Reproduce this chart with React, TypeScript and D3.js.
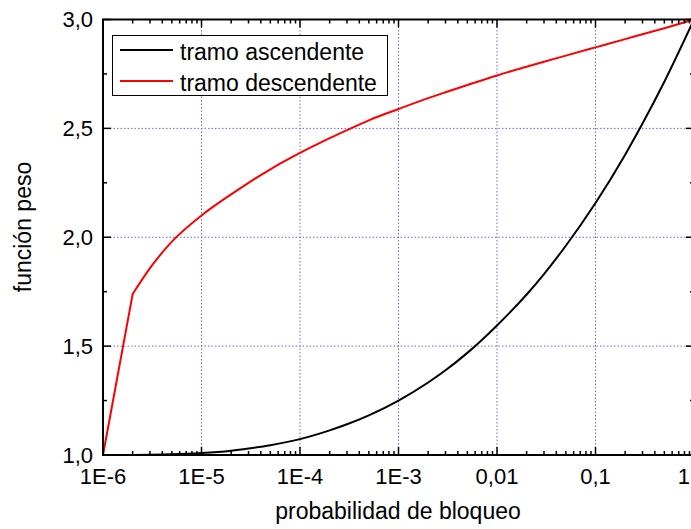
import React, { useRef, useEffect } from "react";
import * as d3 from "d3";

// probabilidad de bloqueo (x) and both branches of the weight function
const probs = [
  1e-6, 2e-6, 3e-6, 5e-6,
  1e-5, 2e-5, 3e-5, 5e-5,
  1e-4, 2e-4, 3e-4, 5e-4,
  1e-3, 2e-3, 3e-3, 5e-3,
  1e-2, 2e-2, 3e-2, 5e-2,
  0.1, 0.2, 0.3, 0.5,
  1,
];
const ascendente = [
  1.0, 1.0003, 1.001, 1.003,
  1.009, 1.02, 1.03, 1.045,
  1.073, 1.113, 1.141, 1.182,
  1.25, 1.333, 1.389, 1.469,
  1.595, 1.737, 1.831, 1.961,
  2.157, 2.379, 2.522, 2.714,
  3.0,
];
const descendente = [
  1.0, 1.739, 1.858, 1.98,
  2.1, 2.197, 2.25, 2.312,
  2.387, 2.455, 2.492, 2.537,
  2.589, 2.639, 2.666, 2.699,
  2.743, 2.783, 2.806, 2.834,
  2.872, 2.91, 2.932, 2.96,
  3.0,
];

const xTickValues = [1e-6, 1e-5, 1e-4, 1e-3, 1e-2, 0.1, 1];
const xTickLabels = ["1E-6", "1E-5", "1E-4", "1E-3", "0,01", "0,1", "1"];
const yTickValues = [1.0, 1.5, 2.0, 2.5, 3.0];
const yTickLabels = ["1,0", "1,5", "2,0", "2,5", "3,0"];
const yMinorValues = [1.25, 1.75, 2.25, 2.75];

const seriesNames = ["tramo ascendente", "tramo descendente"];
const seriesColors = ["#000000", "#ff0000"];

const FONT = "'Liberation Sans', Arial, sans-serif";

const App = () => {
  const ref = useRef<SVGSVGElement | null>(null);

  useEffect(() => {
    if (!ref.current) return;
    const svg = d3.select(ref.current);
    svg.selectAll("*").remove();

    const left = 103, right = 694, top = 19.5, bottom = 455;

    const x = d3.scaleLog().domain([1e-6, 1]).range([left, right]);
    const y = d3.scaleLinear().domain([1, 3]).range([bottom, top]);

    // grid
    const grid = svg.append("g");
    grid.selectAll(".gx")
      .data(xTickValues.slice(1, -1))
      .join("line")
      .attr("x1", d => x(d)).attr("x2", d => x(d))
      .attr("y1", top).attr("y2", bottom)
      .attr("stroke", "#6464ff").attr("stroke-width", 1)
      .attr("stroke-dasharray", "1.5,2");
    grid.selectAll(".gy")
      .data(yTickValues.slice(1, -1))
      .join("line")
      .attr("x1", left).attr("x2", right)
      .attr("y1", d => y(d)).attr("y2", d => y(d))
      .attr("stroke", "#6464ff").attr("stroke-width", 1)
      .attr("stroke-dasharray", "1.5,2");

    // curves: black is smooth, red has a straight first segment then a smooth run
    const pts = (s: number[]) => s.map((v, i) => [x(probs[i]), y(v)] as [number, number]);
    const smooth = d3.line().curve(d3.curveMonotoneX);
    const straight = d3.line();

    const asc = pts(ascendente);
    const desc = pts(descendente);
    const paths = [
      { d: smooth(asc), c: seriesColors[0] },
      { d: straight(desc.slice(0, 2)), c: seriesColors[1] },
      { d: smooth(desc.slice(1)), c: seriesColors[1] },
    ];
    paths.forEach(p => {
      svg.append("path")
        .attr("d", p.d)
        .attr("fill", "none")
        .attr("stroke", p.c)
        .attr("stroke-width", 2)
        .attr("stroke-linejoin", "round")
        .attr("stroke-linecap", "round");
    });

    // frame
    svg.append("rect")
      .attr("x", left).attr("y", top)
      .attr("width", right - left).attr("height", bottom - top)
      .attr("fill", "none").attr("stroke", "#000").attr("stroke-width", 2);

    // ticks (all inward)
    const minorX = x.ticks().filter(d => !xTickValues.includes(d));
    const ticks = svg.append("g").attr("stroke", "#000").attr("stroke-width", 1.5);
    const xt = [
      ...xTickValues.map(v => ({ v, len: 8 })),
      ...minorX.map(v => ({ v, len: 4 })),
    ];
    xt.forEach(t => {
      ticks.append("line").attr("x1", x(t.v)).attr("x2", x(t.v))
        .attr("y1", bottom).attr("y2", bottom - t.len);
      ticks.append("line").attr("x1", x(t.v)).attr("x2", x(t.v))
        .attr("y1", top).attr("y2", top + t.len);
    });
    const yt = [
      ...yTickValues.map(v => ({ v, len: 8 })),
      ...yMinorValues.map(v => ({ v, len: 4 })),
    ];
    yt.forEach(t => {
      ticks.append("line").attr("y1", y(t.v)).attr("y2", y(t.v))
        .attr("x1", left).attr("x2", left + t.len);
      ticks.append("line").attr("y1", y(t.v)).attr("y2", y(t.v))
        .attr("x1", right).attr("x2", right - t.len);
    });

    // tick labels (last one pulled inside the window edge)
    svg.append("g").selectAll("text")
      .data(xTickValues)
      .join("text")
      .attr("x", (d, i) => (i === xTickValues.length - 1 ? 690 : x(d)))
      .attr("y", 484)
      .attr("text-anchor", (_, i) => (i === xTickValues.length - 1 ? "end" : "middle"))
      .attr("font-family", FONT).attr("font-size", 22)
      .text((_, i) => xTickLabels[i]);
    svg.append("g").selectAll("text")
      .data(yTickValues)
      .join("text")
      .attr("x", 93).attr("y", d => y(d) + 7.5)
      .attr("text-anchor", "end")
      .attr("font-family", FONT).attr("font-size", 22)
      .text((_, i) => yTickLabels[i]);

    // axis titles
    svg.append("text")
      .attr("x", 398).attr("y", 519)
      .attr("text-anchor", "middle")
      .attr("font-family", FONT).attr("font-size", 23)
      .text("probabilidad de bloqueo");
    svg.append("text")
      .attr("transform", "translate(31,227) rotate(-90)")
      .attr("text-anchor", "middle")
      .attr("font-family", FONT).attr("font-size", 23)
      .text("función peso");

    // legend
    const lg = svg.append("g");
    lg.append("rect")
      .attr("x", 112.5).attr("y", 35.5)
      .attr("width", 275).attr("height", 60)
      .attr("fill", "#fff").attr("stroke", "#000").attr("stroke-width", 1);
    seriesNames.forEach((name, k) => {
      const ly = 50 + k * 31;
      lg.append("line")
        .attr("x1", 120).attr("x2", 173)
        .attr("y1", ly).attr("y2", ly)
        .attr("stroke", seriesColors[k]).attr("stroke-width", 2);
      lg.append("text")
        .attr("x", 180).attr("y", ly + 9.5)
        .attr("font-family", FONT).attr("font-size", 23)
        .text(name);
    });
  }, []);

  return (
    <svg
      ref={ref}
      width={691}
      height={529}
      style={{ position: "absolute", left: 0, top: 0, background: "#fff" }}
    />
  );
};

export default App;
